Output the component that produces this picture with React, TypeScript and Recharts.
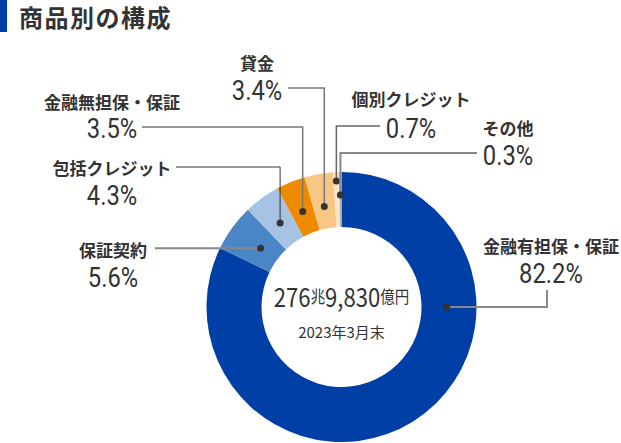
import React from 'react';
import { PieChart, Pie, Cell } from 'recharts';

const categories = ['金融有担保・保証', '保証契約', '包括クレジット', '金融無担保・保証', '貸金', '個別クレジット', 'その他'];
const shares = [82.2, 5.6, 4.3, 3.5, 3.4, 0.7, 0.3];
const shareLabels = ['82.2%', '5.6%', '4.3%', '3.5%', '3.4%', '0.7%', '0.3%'];
const totalLabel = ['276', '兆', '9,830', '億円'];
const asOf = '2023年3月末';

const colors = ['#003fa6', '#4a86c6', '#a6c3e4', '#ee8a00', '#f8c786', '#fde6c8', '#b4b4b4'];

// leader-line / label placement for each slice
const layout = [
  { r: 105, angle: 0, mode: 'hv', endX: 547, endY: 290, tx: 551, ny: 245, py: 273, line: '#888', lw: 2 },
  { r: 100, mode: 'hv', endX: 155, endY: null, tx: 113, ny: 249, py: 277, line: '#888', lw: 2 },
  { r: 104, mode: 'vh', endX: 176, endY: 167, tx: 112, ny: 167, py: 195, line: '#333', lw: 1 },
  { r: 103, mode: 'vh', endX: 142, endY: 127, tx: 112, ny: 101, py: 128, line: '#777', lw: 1.5 },
  { r: 102, mode: 'vh', endX: 288, endY: 88, tx: 257, ny: 62, py: 90, line: '#777', lw: 1.5 },
  { r: 126, mode: 'vh', endX: 380, endY: 126, tx: 411, ny: 98, py: 128, line: '#666', lw: 1.5 },
  { r: 112, mode: 'vh', endX: 477, endY: 153, tx: 508, ny: 127, py: 155, line: '#888', lw: 2 },
];

const data = categories.map((name, i) => ({ name, value: shares[i] }));

const FONT = '"Noto Sans CJK JP", "Noto Sans", sans-serif';
const RADIAN = Math.PI / 180;

function CenterText({ cx, cy }: { cx: number; cy: number }) {
  return (
    <g>
      <g transform={`translate(${cx},${cy - 12}) scale(0.85,1)`}>
        <text x={0} y={0} textAnchor="middle" dominantBaseline="central" fontFamily={FONT} fill="#333">
          <tspan fontSize={26}>{totalLabel[0]}</tspan>
          <tspan fontSize={17}>{totalLabel[1]}</tspan>
          <tspan fontSize={26}>{totalLabel[2]}</tspan>
          <tspan fontSize={17}>{totalLabel[3]}</tspan>
        </text>
      </g>
      <text x={cx} y={cy + 24} textAnchor="middle" dominantBaseline="central" fontFamily={FONT} fontSize={15} fill="#333">
        {asOf}
      </text>
    </g>
  );
}

function SliceLabel(props: any) {
  const { cx, cy, midAngle, index } = props;
  const l = layout[index];
  const a = (l.angle ?? midAngle) * RADIAN;
  const dx = cx + l.r * Math.cos(a);
  const dy = cy - l.r * Math.sin(a);
  let pts: number[][];
  if (l.mode === 'hv') {
    const ey = l.endY ?? dy;
    pts = [[dx, dy], [l.endX, dy], [l.endX, ey]];
  } else {
    pts = [[dx, dy], [dx, l.endY], [l.endX, l.endY]];
  }
  return (
    <g>
      {index === 0 && <CenterText cx={cx} cy={cy} />}
      <polyline points={pts.map((p) => p.join(',')).join(' ')} fill="none" stroke={l.line} strokeWidth={l.lw} />
      <circle cx={dx} cy={dy} r={3.5} fill="#333" />
      <text x={l.tx} y={l.ny} textAnchor="middle" dominantBaseline="central" fontFamily={FONT} fontWeight={700} fontSize={17} fill="#333">
        {categories[index]}
      </text>
      <g transform={`translate(${l.tx},${l.py}) scale(0.85,1)`}>
        <text x={0} y={0} textAnchor="middle" dominantBaseline="central" fontFamily="Roboto, sans-serif" fontSize={28} fill="#333">
          {shareLabels[index]}
        </text>
      </g>
    </g>
  );
}

export default function App() {
  return (
    <div style={{ position: 'absolute', left: 0, top: 0, width: 621, height: 443, background: '#fff' }}>
      <div style={{ position: 'absolute', left: 0, top: 0, width: 7, height: 32, background: '#003fa6' }} />
      <div
        style={{
          position: 'absolute',
          left: 19,
          top: 0,
          height: 34,
          lineHeight: '34px',
          fontFamily: FONT,
          fontWeight: 700,
          fontSize: 24,
          color: '#333',
          letterSpacing: 1.5,
        }}
      >
        商品別の構成
      </div>
      <PieChart
        width={621}
        height={443}
        margin={{ top: 0, right: 0, bottom: 0, left: 0 }}
        style={{ position: 'absolute', left: 0, top: 0 }}
      >
        <Pie
          data={data}
          dataKey="value"
          nameKey="name"
          cx={341.5}
          cy={307}
          innerRadius={80}
          outerRadius={135}
          startAngle={90}
          endAngle={-270}
          stroke="none"
          label={SliceLabel}
          labelLine={false}
          isAnimationActive={false}
        >
          {data.map((entry, index) => (
            <Cell key={`cell-${index}`} fill={colors[index]} />
          ))}
        </Pie>
      </PieChart>
    </div>
  );
}
